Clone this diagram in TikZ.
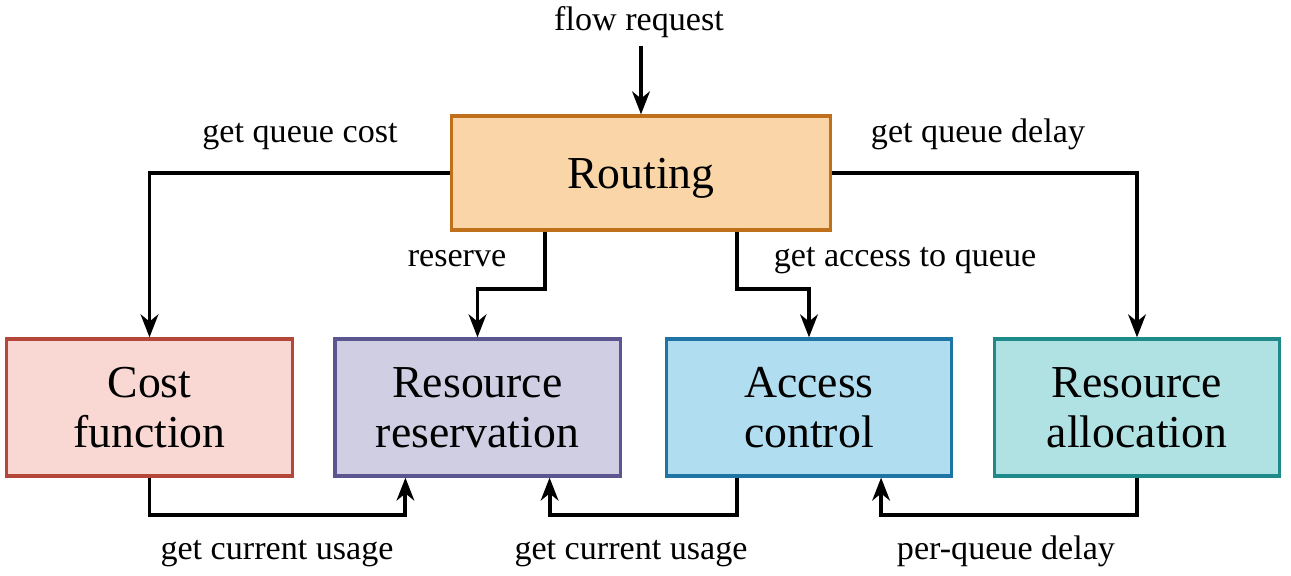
\documentclass[tikz,border=0pt]{standalone}
\usepackage{fontspec}
\setmainfont{Liberation Serif}
\usetikzlibrary{arrows.meta,calc}

\definecolor{routefill}{HTML}{F9D5A7}
\definecolor{routeline}{HTML}{C0701A}
\definecolor{costfill}{HTML}{F9D8D4}
\definecolor{costline}{HTML}{B5473A}
\definecolor{resfill}{HTML}{D0CEE3}
\definecolor{resline}{HTML}{5B5590}
\definecolor{accfill}{HTML}{B0DDEF}
\definecolor{accline}{HTML}{1E74A4}
\definecolor{allocfill}{HTML}{B0E2E3}
\definecolor{allocline}{HTML}{1E8A8A}

\begin{document}
\begin{tikzpicture}[x=0.01cm, y=-0.01cm,
        block/.style={draw, line width=0.9pt, minimum width=2.85cm, minimum height=1.37cm, inner sep=0pt, align=center, font=\fontsize{13}{14.2}\selectfont},
        lbl/.style={anchor=base, inner sep=0pt, font=\fontsize{9.7}{11}\selectfont},
        flow/.style={line width=1.1pt, -{Stealth[length=6.5pt, width=5pt, inset=2pt]}}]
        \useasboundingbox (0, 0) rectangle (1291, 576);

        \node[block, draw=routeline, fill=routefill, minimum width=3.79cm, minimum height=1.14cm, text depth=0pt] (routing) at (641, 173) {Routing};
        \node[block, draw=costline, fill=costfill] (cost) at (149.5, 407.5) {Cost\\function};
        \node[block, draw=resline, fill=resfill] (reserv) at (477.5, 407.5) {Resource\\reservation};
        \node[block, draw=accline, fill=accfill] (access) at (809, 407.5) {Access\\control};
        \node[block, draw=allocline, fill=allocfill] (alloc) at (1137, 407.5) {Resource\\allocation};

        \coordinate (req) at (641, 46);
        \node[lbl] (lreq) at (639, 31) {flow request};

        \coordinate (rl) at ($(routing.south west)!0.5!(routing.south)$);
        \coordinate (rr) at ($(routing.south east)!0.5!(routing.south)$);
        \coordinate (resl) at ($(reserv.south west)!0.5!(reserv.south)$);
        \coordinate (resr) at ($(reserv.south east)!0.5!(reserv.south)$);
        \coordinate (accl) at ($(access.south west)!0.5!(access.south)$);
        \coordinate (accr) at ($(access.south east)!0.5!(access.south)$);

        \draw[flow] (req) -- (routing);
        \draw[flow] (routing.west) -| (cost);
        \draw[flow] (routing.east) -| (alloc);
        \draw[flow] (rl) -- ++(0, 57) -| (reserv);
        \draw[flow] (rr) -- ++(0, 57) -| (access);
        \draw[flow] (cost.south) -- ++(0, 37) -| (resl);
        \draw[flow] (accl) -- ++(0, 37) -| (resr);
        \draw[flow] (alloc.south) -- ++(0, 37) -| (accr);

        \node[lbl] (lcost) at (300, 143) {get queue cost};
        \node[lbl] (ldelay) at (978, 143) {get queue delay};
        \node[lbl] (lres) at (457, 267) {reserve};
        \node[lbl] (lacc) at (905, 267) {get access to queue};
        \node[lbl] (lusea) at (277, 559) {get current usage};
        \node[lbl] (luseb) at (631, 559) {get current usage};
        \node[lbl] (lpq) at (1006, 559) {per-queue delay};
\end{tikzpicture}
\end{document}
